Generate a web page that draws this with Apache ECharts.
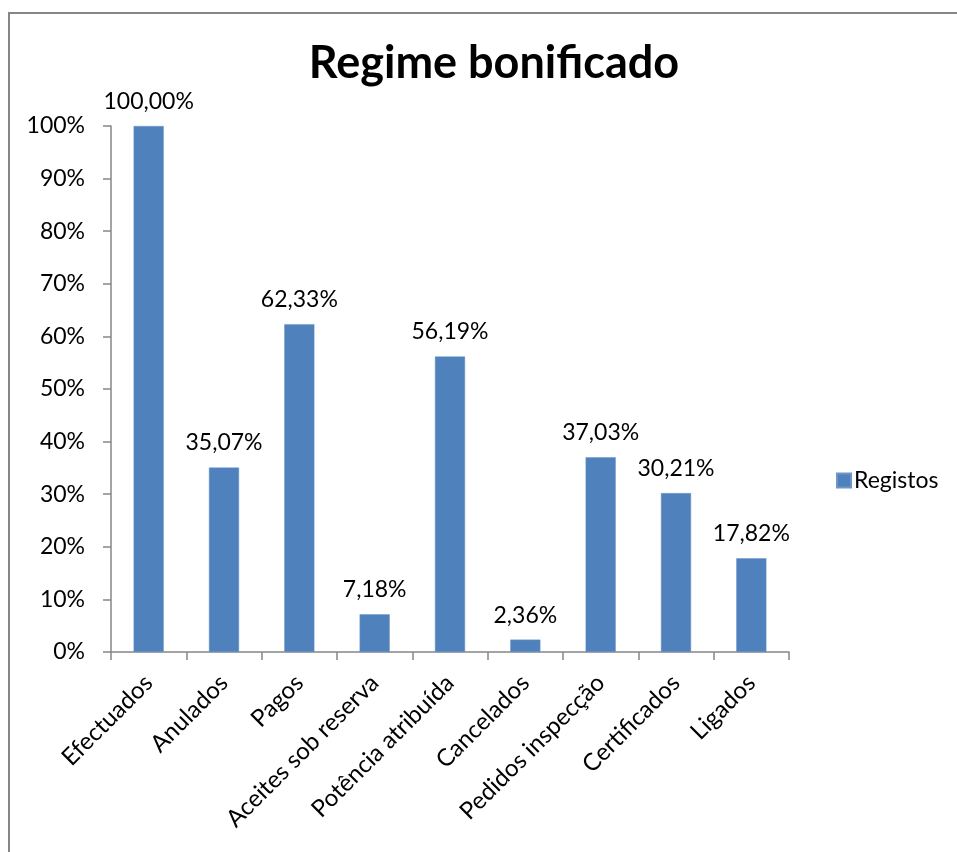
<!DOCTYPE html>
<html>
<head>
<meta charset="utf-8">
<script src="https://cdn.jsdelivr.net/npm/echarts@6/dist/echarts.min.js"></script>
<style>
  html, body { margin: 0; padding: 0; background: #ffffff; }
  #chart { width: 957px; height: 852px; }
</style>
</head>
<body>
<div id="chart"></div>
<script>
// Registos por estado, em percentagem dos pedidos efectuados
const categories = ['Efectuados', 'Anulados', 'Pagos', 'Aceites sob reserva', 'Potência atribuída',
  'Cancelados', 'Pedidos inspecção', 'Certificados', 'Ligados'];
const registos = [100.00, 35.07, 62.33, 7.18, 56.19, 2.36, 37.03, 30.21, 17.82];
const yTicks = [0, 10, 20, 30, 40, 50, 60, 70, 80, 90, 100];

const FONT = 'Lato, "Open Sans", sans-serif';
const chart = echarts.init(document.getElementById('chart'), null, { renderer: 'canvas' });

chart.setOption({
  animation: false,
  backgroundColor: '#ffffff',
  textStyle: { fontFamily: FONT, color: '#000000' },
  graphic: [{
    type: 'rect',
    shape: { x: 9, y: 13, width: 1000, height: 900 },
    style: { fill: 'none', stroke: '#868686', lineWidth: 2 },
    silent: true,
    z: -1
  }],
  title: {
    text: 'Regime bonificado',
    left: 489,
    top: 36,
    textAlign: 'center',
    textStyle: { fontFamily: FONT, fontSize: 45, fontWeight: 'bold', color: '#000000' }
  },
  legend: {
    left: 831,
    top: 464,
    orient: 'vertical',
    itemWidth: 14,
    itemHeight: 14,
    itemGap: 8,
    icon: 'rect',
    textStyle: { fontFamily: FONT, fontSize: 23, color: '#000000', padding: [0, 0, 0, -2] },
    data: ['Registos']
  },
  grid: { left: 111, right: 168, top: 126, bottom: 200, containLabel: false },
  xAxis: {
    type: 'category',
    data: categories,
    axisLine: { lineStyle: { color: '#868686', width: 1.5 } },
    axisTick: { show: true, alignWithLabel: false, length: 8, lineStyle: { color: '#868686', width: 1.5 } },
    axisLabel: {
      interval: 0,
      rotate: 45,
      margin: 27,
      fontFamily: FONT,
      fontSize: 24,
      color: '#000000'
    },
    splitLine: { show: false }
  },
  yAxis: {
    type: 'value',
    min: yTicks[0],
    max: yTicks[yTicks.length - 1],
    interval: 10,
    axisLine: { show: true, lineStyle: { color: '#868686', width: 1.5 } },
    axisTick: { show: true, inside: false, length: 8, lineStyle: { color: '#868686', width: 1.5 } },
    axisLabel: {
      margin: 26,
      fontFamily: FONT,
      fontSize: 23,
      color: '#000000',
      formatter: v => v + '%'
    },
    splitLine: { show: false }
  },
  series: [{
    name: 'Registos',
    type: 'bar',
    data: registos,
    barWidth: '40%',
    itemStyle: { color: '#4F81BD', borderColor: '#6E96C8', borderWidth: 0.5 },
    label: {
      show: true,
      position: 'top',
      distance: 13,
      fontFamily: FONT,
      fontSize: 23,
      color: '#000000',
      formatter: p => p.value.toFixed(2).replace('.', ',') + '%'
    }
  }]
});
</script>
</body>
</html>
